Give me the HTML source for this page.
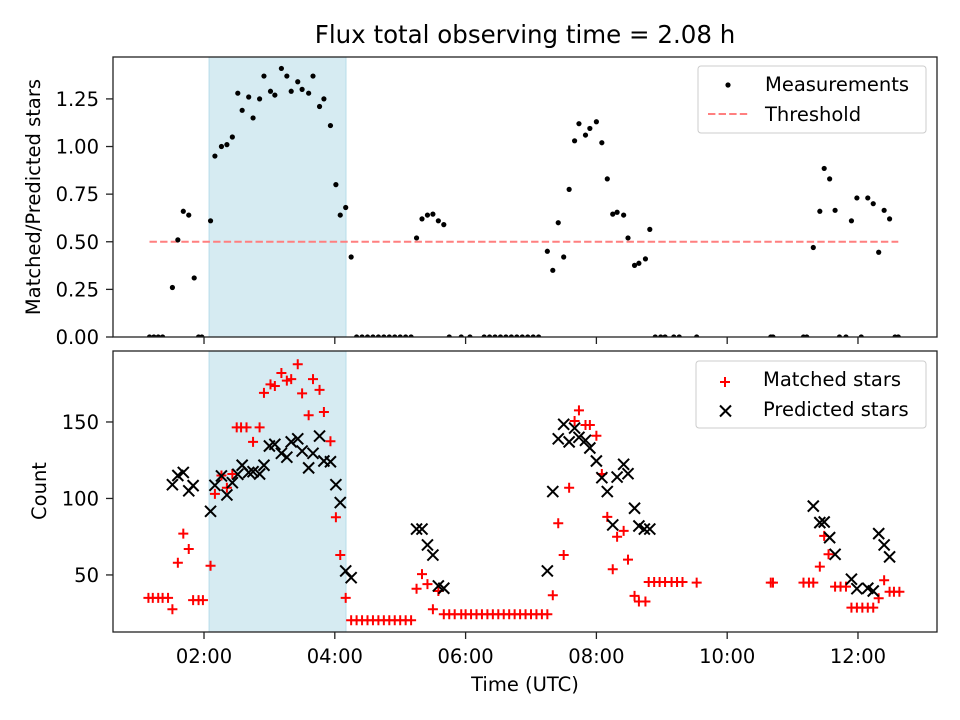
<!DOCTYPE html>
<html><head><meta charset="utf-8"><style>
html,body{margin:0;padding:0;background:#fff;}
svg{display:block;font-family:"DejaVu Sans","Liberation Sans",sans-serif;}
</style></head><body>
<svg id="chart" width="960" height="720" viewBox="0 0 960 720" xmlns="http://www.w3.org/2000/svg"></svg>
<script>
// times in minutes since 00:00 UTC
const ratioTimes = [70,74,78,82,91,96,101,106,111,115,118,126,130,136,141,146,151,155,161,165,171,175,181,185,191,196,200,206,210,216,220,226,230,236,241,245,250,255,260,265,270,275,280,285,290,295,300,305,310,315,320,325,330,335,340,345,356,364,377,382,387,392,397,402,407,412,417,422,427,435,440,445,450,455,460,464,470,474,480,485,490,495,499,505,509,515,519,525,529,534,539,543,551,556,572,640,642,670,673,679,685,689,694,699,703,709,714,719,723,729,734,739,744,749,754,757];
const ratioValues = [0,0,0,0,0.26,0.51,0.66,0.64,0.31,0,0,0.61,0.95,1.00,1.01,1.05,1.28,1.19,1.26,1.15,1.25,1.37,1.29,1.27,1.41,1.37,1.29,1.34,1.30,1.28,1.37,1.21,1.25,1.11,0.80,0.64,0.68,0.42,0,0,0,0,0,0,0,0,0,0,0,0.52,0.62,0.64,0.645,0.61,0.59,0,0,0,0,0,0,0,0,0,0,0,0,0,0,0.45,0.35,0.60,0.42,0.775,1.03,1.12,1.06,1.095,1.13,1.02,0.83,0.645,0.655,0.64,0.52,0.376,0.387,0.41,0.565,0,0,0,0,0,0,0,0,0,0,0.47,0.66,0.885,0.83,0.665,0,0,0.61,0.73,0,0.73,0.70,0.445,0.665,0.62,0,0];
const threshold = 0.5;
const matchedTimes = [69,73,78,82,87,91,96,101,106,110,115,119,126,130,136,141,146,150,154,159,165,171,175,181,185,191,196,200,206,210,216,220,226,230,236,241,245,250,255,260,265,270,275,280,285,290,295,300,305,310,315,320,325,330,335,340,345,350,356,360,365,370,375,380,385,390,395,400,405,410,415,420,425,430,435,440,445,450,455,460,464,470,474,480,485,490,495,499,505,509,515,519,525,528,533,538,543,549,554,559,572,640,642,670,675,679,685,689,693,699,704,709,714,719,724,729,734,739,744,749,753,758];
const matchedCounts = [35,35,35,35,35,27.6,58,77,67,33.5,33.5,33.5,56,103,115,107,116,146.5,146.5,146.5,137,146.5,169,174.6,173.5,182,177,178,187.7,168.7,154.4,178,171,156.5,137.4,87.7,63,35,20.4,20.4,20.4,20.4,20.4,20.4,20.4,20.4,20.4,20.4,20.4,20.4,41,50.5,44,27.6,39.5,24.3,24.3,24.3,24.3,24.3,24.3,24.3,24.3,24.3,24.3,24.3,24.3,24.3,24.3,24.3,24.3,24.3,24.3,24.3,24.3,36.7,83.8,63,107,150.6,157.6,148,148,141,116,88,53.7,75,78.8,60,36.3,32.6,32.6,45.4,45.4,45.4,45.4,45.4,45.4,45.4,45,45,45,45,45,45,55.4,75.5,63.5,42.4,42.4,42.4,28.6,28.6,28.6,28.6,28.6,34.8,46.5,39,39,39];
const predictedTimes = [91,96,101,106,110,126,130,136,141,146,151,155,161,165,171,175,180,185,191,196,200,206,210,216,220,226,230,236,241,245,250,255,315,320,325,330,335,340,435,440,445,450,455,460,464,470,474,480,485,490,495,499,505,509,515,519,524,529,679,685,689,694,699,714,719,729,734,739,744,749];
const predictedCounts = [109,115,117,105,108.4,91.6,108.6,114.7,102.3,110.3,115.8,121.7,117,117.5,116,121.7,134.3,135.4,129.5,127,137,139,131,120,129.5,140.8,124.5,124,109,97.3,52.6,48.2,80,80,69.6,63,42.8,41.3,52.6,104.5,139,148.5,137,146,140,138,133,124.5,113.6,104.5,82.7,114,122.3,116.2,93.6,82,80,80,95,84.2,84.6,74.4,63.5,47.2,41,41.3,39.5,77,69.6,61.8];
const shadeStart = 124.6, shadeEnd = 250.3;
const xTickValues = [120,240,360,480,600,720];
const xTickLabels = ["02:00","04:00","06:00","08:00","10:00","12:00"];
const topTickValues = [0,0.25,0.5,0.75,1.0,1.25];
const topTickLabels = ["0.00","0.25","0.50","0.75","1.00","1.25"];
const botTickValues = [50,100,150];
const botTickLabels = ["50","100","150"];

const NS = "http://www.w3.org/2000/svg";
const svg = document.getElementById("chart");
const L = 113, R = 937;
const T1 = 57, B1 = 337, T2 = 351, B2 = 632;
const xMin = 36.5, xMax = 792.5;
const y1Min = 0, y1Max = 1.47, y2Min = 12.7, y2Max = 196.4;
const FS = 19.5;
const sx = v => L + (v - xMin) / (xMax - xMin) * (R - L);
const sy1 = v => B1 - (v - y1Min) / (y1Max - y1Min) * (B1 - T1);
const sy2 = v => B2 - (v - y2Min) / (y2Max - y2Min) * (B2 - T2);

function mk(tag, attrs, parent) {
  const e = document.createElementNS(NS, tag);
  for (const k in attrs) e.setAttribute(k, attrs[k]);
  (parent || svg).appendChild(e);
  return e;
}
function txt(s, attrs, parent) { const e = mk("text", attrs, parent); e.textContent = s; return e; }

const defs = mk("defs", {});
const c1 = mk("clipPath", {id: "clip1"}, defs); mk("rect", {x: L, y: T1, width: R - L, height: B1 - T1}, c1);
const c2 = mk("clipPath", {id: "clip2"}, defs); mk("rect", {x: L, y: T2, width: R - L, height: B2 - T2}, c2);

const title = txt("Flux total observing time = 2.08 h", {x: 525, y: 43, "font-size": 24.5, "text-anchor": "middle", fill: "#000"});



[[T1, B1], [T2, B2]].forEach(([t, b], i) => {
  const r = mk("rect", {x: sx(shadeStart), y: t, width: sx(shadeEnd) - sx(shadeStart), height: b - t, fill: "#add8e6", "fill-opacity": 0.5, stroke: "#add8e6", "stroke-opacity": 0.8});
  
  
});

const g1 = mk("g", {"clip-path": "url(#clip1)"});


const thr = mk("line", {x1: sx(ratioTimes[0]), x2: sx(ratioTimes[ratioTimes.length - 1]), y1: sy1(threshold), y2: sy1(threshold), stroke: "#ff7f7f", "stroke-width": 2, "stroke-dasharray": "7.4,3.2"}, g1);


ratioTimes.forEach((t, i) => {
  const c = mk("circle", {cx: sx(t), cy: sy1(ratioValues[i]), r: 2.6, fill: "#000"}, g1);
  
  
});

const g2 = mk("g", {"clip-path": "url(#clip2)"});


matchedTimes.forEach((t, i) => {
  const x = sx(t), y = sy2(matchedCounts[i]);
  const p = mk("path", {d: `M${x-5},${y}H${x+5}M${x},${y-5}V${y+5}`, stroke: "#ff0000", "stroke-width": 2, fill: "none"}, g2);
  
  
});
predictedTimes.forEach((t, i) => {
  const x = sx(t), y = sy2(predictedCounts[i]);
  const p = mk("path", {d: `M${x-5.5},${y-5.5}L${x+5.5},${y+5.5}M${x-5.5},${y+5.5}L${x+5.5},${y-5.5}`, stroke: "#000", "stroke-width": 2, fill: "none"}, g2);
  
  
});

[[T1, B1, 'top-axes-frame'], [T2, B2, 'bottom-axes-frame']].forEach(([t, b, n]) => {
  const r = mk("rect", {x: L, y: t, width: R - L, height: b - t, fill: "none", stroke: "#222", "stroke-width": 1.3});
  
  
});

xTickValues.forEach((v, i) => {
  const x = sx(v);
  mk("line", {x1: x, x2: x, y1: B1, y2: B1 + 7, stroke: "#222", "stroke-width": 1.3});
  mk("line", {x1: x, x2: x, y1: B2, y2: B2 + 7, stroke: "#222", "stroke-width": 1.3});
  const lb = txt(xTickLabels[i], {x: x, y: B2 + 31, "font-size": FS, "text-anchor": "middle"});
  
  
});
topTickValues.forEach((v, i) => {
  const y = sy1(v);
  mk("line", {x1: L - 7, x2: L, y1: y, y2: y, stroke: "#222", "stroke-width": 1.3});
  const lb = txt(topTickLabels[i], {x: L - 14, y: y + 7, "font-size": FS, "text-anchor": "end"});
  
  
});
botTickValues.forEach((v, i) => {
  const y = sy2(v);
  mk("line", {x1: L - 7, x2: L, y1: y, y2: y, stroke: "#222", "stroke-width": 1.3});
  const lb = txt(botTickLabels[i], {x: L - 14, y: y + 7, "font-size": FS, "text-anchor": "end"});
  
  
});

const yl1 = txt("Matched/Predicted stars", {x: 0, y: 0, "font-size": FS, "text-anchor": "middle", transform: `translate(40,197) rotate(-90)`});


const yl2 = txt("Count", {x: 0, y: 0, "font-size": FS, "text-anchor": "middle", transform: `translate(46,491) rotate(-90)`});


const xl = txt("Time (UTC)", {x: 525, y: 691, "font-size": FS, "text-anchor": "middle"});



const lg1 = mk("g", {});


mk("rect", {x: 698, y: 66, width: 228, height: 67, rx: 3, fill: "#fff", "fill-opacity": 0.8, stroke: "#ccc"}, lg1);
mk("circle", {cx: 728, cy: 85, r: 2.6, fill: "#000"}, lg1);
txt("Measurements", {x: 765, y: 91, "font-size": FS}, lg1);
mk("line", {x1: 708, x2: 748, y1: 114, y2: 114, stroke: "#ff7f7f", "stroke-width": 2, "stroke-dasharray": "7.4,3.2"}, lg1);
txt("Threshold", {x: 765, y: 121, "font-size": FS}, lg1);

const lg2 = mk("g", {});


mk("rect", {x: 696, y: 361, width: 230, height: 67, rx: 3, fill: "#fff", "fill-opacity": 0.8, stroke: "#ccc"}, lg2);
mk("path", {d: "M720,382H730M725,377V387", stroke: "#ff0000", "stroke-width": 2}, lg2);
txt("Matched stars", {x: 763, y: 386, "font-size": FS}, lg2);
mk("path", {d: "M720,405.5L731,416.5M720,416.5L731,405.5", stroke: "#000", "stroke-width": 2}, lg2);
txt("Predicted stars", {x: 763, y: 416, "font-size": FS}, lg2);
</script>
</body></html>
